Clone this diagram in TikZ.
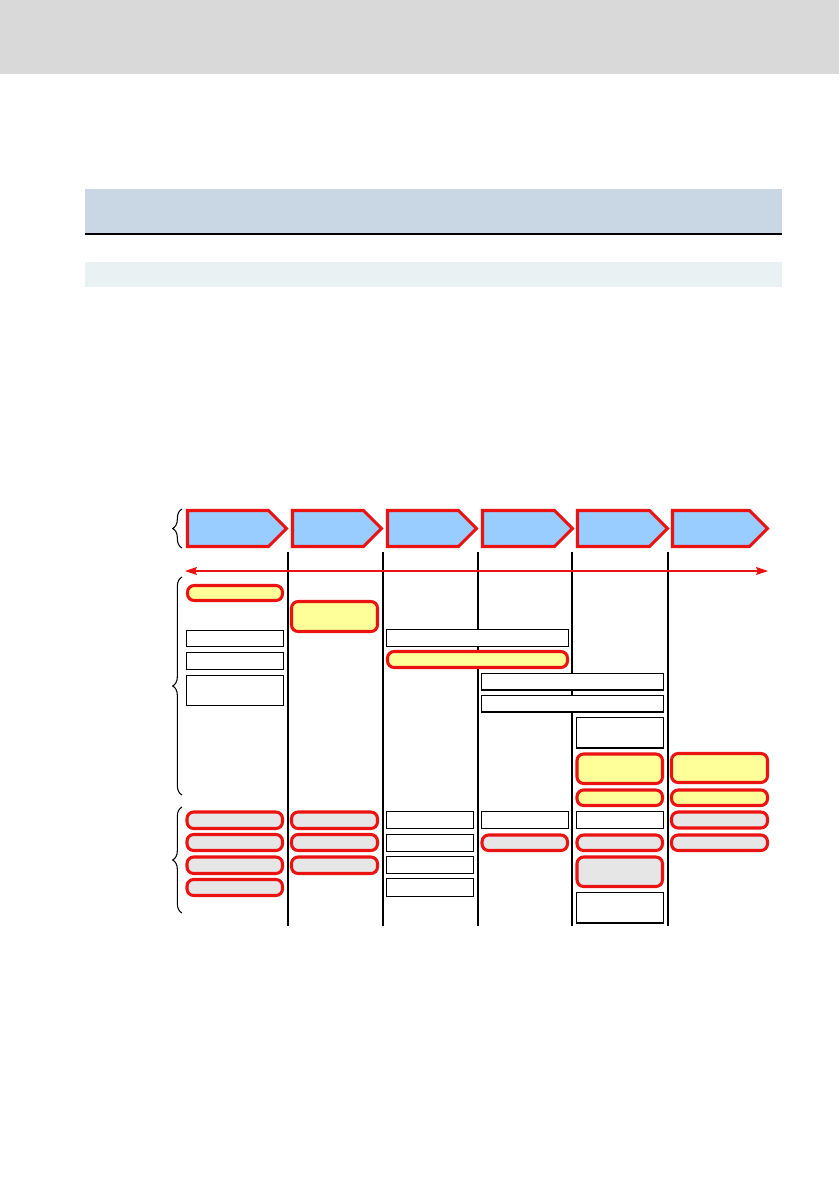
\documentclass[tikz,border=0pt]{standalone}
\usetikzlibrary{fit,arrows.meta,decorations.pathreplacing}
\definecolor{hdrgray}{HTML}{D9D9D9}
\definecolor{bandblue}{HTML}{C8D7E3}
\definecolor{bandlight}{HTML}{EAF1F3}
\definecolor{chevblue}{HTML}{99CCFF}
\definecolor{redline}{RGB}{235,18,18}
\definecolor{yelfill}{HTML}{FFFF99}
\definecolor{grayfill}{HTML}{E6E6E6}
\tikzset{
  wbox/.style={draw=black, line width=0.8pt, fill=white, inner sep=0pt, outer sep=0pt},
  ybox/.style={draw=redline, line width=2.3pt, fill=yelfill, rounded corners=5pt, inner sep=0pt, outer sep=0pt},
  gbox/.style={draw=redline, line width=2.3pt, fill=grayfill, rounded corners=5pt, inner sep=0pt, outer sep=0pt},
  chev/.style={draw=redline, line width=2.3pt, fill=chevblue, line join=miter},
  vline/.style={draw=black, line width=0.8pt},
  bracestyle/.style={draw=black, line width=0.8pt, decorate, decoration={brace, amplitude=7pt}},
  timeline/.style={draw=redline, line width=0.8pt, {Stealth[length=9pt,width=6pt,inset=1.5pt]}-{Stealth[length=9pt,width=6pt,inset=1.5pt]}}
}
\newcommand\bx[6]{\node[#1, fit={(#3,#4) (#5,#6)}] (#2) {};}
\newcommand\chevr[4]{\draw[chev] (#2,510.5) -- (#3,510.5) -- (#4,528.5) -- (#3,546.5) -- (#2,546.5) -- cycle; \coordinate (#1) at (#2,528.5);}
\begin{document}
\begin{tikzpicture}[x=0.75pt,y=-0.75pt]
\useasboundingbox (0,0) rectangle (839,1191);
% page header bands
\fill[hdrgray] (0,0) rectangle (839,74);
\fill[bandblue] (85,189) rectangle (782,234);
\draw[black, line width=1.6pt] (85,234) -- (782,234);
\fill[bandlight] (85,262) rectangle (782,287);
% chevrons
\chevr{c1}{187.5}{268.5}{286.5}
\chevr{c2}{292.5}{363.5}{381.5}
\chevr{c3}{387.5}{458.5}{476.5}
\chevr{c4}{482.5}{554.5}{572.5}
\chevr{c5}{577.5}{649.5}{667.5}
\chevr{c6}{672.5}{749.5}{767.5}
% column separators
\foreach \xx/\nm in {288/s1,383/s2,478/s3,572/s4,668/s5}{
  \coordinate (\nm t) at (\xx,552);
  \coordinate (\nm b) at (\xx,926);
  \draw[vline] (\nm t) -- (\nm b);
}
% time arrow
\coordinate (al) at (185,571);
\coordinate (ar) at (768,571);
\draw[timeline] (al) -- (ar);
% braces
\coordinate (b1a) at (182,548); \coordinate (b1b) at (182,509);
\draw[bracestyle] (b1a) -- (b1b);
\coordinate (b2a) at (182,795); \coordinate (b2b) at (182,577);
\draw[bracestyle] (b2a) -- (b2b);
\coordinate (b3a) at (182,913); \coordinate (b3b) at (182,807);
\draw[bracestyle] (b3a) -- (b3b);
% column 1
\bx{ybox}{y1}{187.5}{585.5}{282.5}{600.5}
\bx{wbox}{w11}{186.5}{630.5}{283.5}{646.5}
\bx{wbox}{w12}{186.5}{652.5}{283.5}{669.5}
\bx{wbox}{w13}{186.5}{675.5}{283.5}{705.5}
\bx{gbox}{g11}{187}{812}{282.5}{828.5}
\bx{gbox}{g12}{187}{834.5}{282.5}{850.5}
\bx{gbox}{g13}{187}{857}{282.5}{873.5}
\bx{gbox}{g14}{187}{879.5}{282.5}{895.5}
% column 2
\bx{ybox}{y2}{291.5}{601.5}{377.5}{631.5}
\bx{gbox}{g21}{291.5}{812}{377.5}{828.5}
\bx{gbox}{g22}{291.5}{834.5}{377.5}{850.5}
\bx{gbox}{g23}{291.5}{857}{377.5}{873.5}
% column 3
\bx{wbox}{w31}{386.5}{629.5}{568.5}{646.5}
\bx{ybox}{y31}{387.5}{651.5}{567.5}{667.5}
\bx{wbox}{w32}{386.5}{811.5}{473.5}{828.5}
\bx{wbox}{w33}{386.5}{834.5}{473.5}{851.5}
\bx{wbox}{w34}{386.5}{856.5}{473.5}{873.5}
\bx{wbox}{w35}{386.5}{878.5}{473.5}{896.5}
% column 4
\bx{wbox}{w41}{481.5}{673.5}{663.5}{690}
\bx{wbox}{w42}{481.5}{695.5}{663.5}{712}
\bx{wbox}{w43}{481.5}{811.5}{568.5}{828.5}
\bx{gbox}{g41}{482}{835}{567.5}{850.5}
% column 5
\bx{wbox}{w51}{576.5}{717.5}{663.5}{748}
\bx{ybox}{y51}{577}{754}{662.5}{783.5}
\bx{ybox}{y52}{577}{790}{662.5}{805.5}
\bx{wbox}{w52}{576.5}{811.5}{663.5}{828.5}
\bx{gbox}{g51}{577}{835}{662.5}{850.5}
\bx{gbox}{g52}{577}{857}{662.5}{886.5}
\bx{wbox}{w53}{576.5}{892.5}{663.5}{923}
% column 6
\bx{ybox}{y61}{671.5}{753.5}{767.5}{782.5}
\bx{ybox}{y62}{671.5}{790}{767.5}{805.5}
\bx{gbox}{g61}{671.5}{812}{767.5}{828}
\bx{gbox}{g62}{671.5}{835}{767.5}{850.5}
\end{tikzpicture}
\end{document}
